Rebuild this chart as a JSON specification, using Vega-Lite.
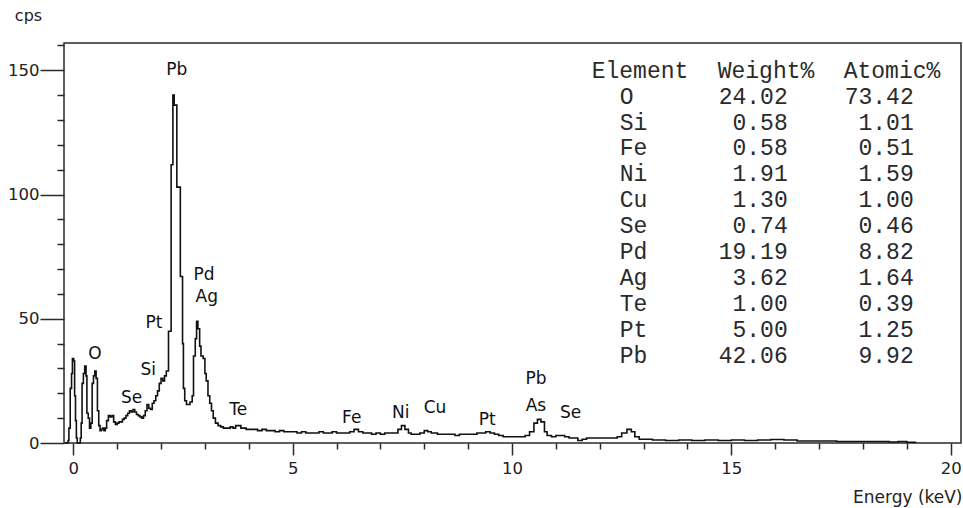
{
  "$schema": "https://vega.github.io/schema/vega-lite/v6.json",
  "width": 897,
  "height": 400,
  "autosize": {"type": "none"},
  "padding": {"left": 64, "top": 43, "right": 2, "bottom": 65},
  "background": "white",
  "config": {
    "font": "DejaVu Sans",
    "view": {"stroke": "#2a2a2a", "strokeWidth": 1.5},
    "axis": {
      "grid": false,
      "domain": false,
      "tickColor": "#2a2a2a",
      "tickWidth": 1.5,
      "labelFont": "DejaVu Sans",
      "labelFontSize": 16.5,
      "labelColor": "#222",
      "titleFont": "DejaVu Sans",
      "titleFontWeight": "normal",
      "titleColor": "#222",
      "labelFlush": false,
      "labelOverlap": false
    }
  },
  "datasets": {
    "spectrum": [
      {"keV": -0.2, "cps": 0}, {"keV": -0.15, "cps": 0}, {"keV": -0.12, "cps": 1}, {"keV": -0.1, "cps": 6},
      {"keV": -0.07, "cps": 22}, {"keV": -0.04, "cps": 28}, {"keV": -0.02, "cps": 34}, {"keV": 0.01, "cps": 33},
      {"keV": 0.03, "cps": 19}, {"keV": 0.05, "cps": 9}, {"keV": 0.07, "cps": 2}, {"keV": 0.09, "cps": 0},
      {"keV": 0.13, "cps": 0}, {"keV": 0.16, "cps": 2}, {"keV": 0.18, "cps": 8}, {"keV": 0.2, "cps": 24},
      {"keV": 0.23, "cps": 28}, {"keV": 0.26, "cps": 31}, {"keV": 0.29, "cps": 27}, {"keV": 0.31, "cps": 12},
      {"keV": 0.34, "cps": 10}, {"keV": 0.37, "cps": 6}, {"keV": 0.4, "cps": 8}, {"keV": 0.43, "cps": 24},
      {"keV": 0.46, "cps": 27}, {"keV": 0.49, "cps": 29}, {"keV": 0.52, "cps": 26}, {"keV": 0.55, "cps": 13},
      {"keV": 0.58, "cps": 7}, {"keV": 0.61, "cps": 5}, {"keV": 0.64, "cps": 5.5}, {"keV": 0.67, "cps": 6},
      {"keV": 0.7, "cps": 5}, {"keV": 0.73, "cps": 6}, {"keV": 0.76, "cps": 9}, {"keV": 0.8, "cps": 11},
      {"keV": 0.84, "cps": 10.5}, {"keV": 0.88, "cps": 11}, {"keV": 0.92, "cps": 8.5}, {"keV": 0.96, "cps": 7.5},
      {"keV": 1.0, "cps": 8}, {"keV": 1.04, "cps": 8.5}, {"keV": 1.08, "cps": 8.5}, {"keV": 1.12, "cps": 9.5},
      {"keV": 1.16, "cps": 10}, {"keV": 1.2, "cps": 11}, {"keV": 1.24, "cps": 12}, {"keV": 1.28, "cps": 13},
      {"keV": 1.32, "cps": 12.5}, {"keV": 1.36, "cps": 13.5}, {"keV": 1.4, "cps": 12.5}, {"keV": 1.44, "cps": 11.5},
      {"keV": 1.48, "cps": 11}, {"keV": 1.52, "cps": 10.5}, {"keV": 1.56, "cps": 10}, {"keV": 1.6, "cps": 11},
      {"keV": 1.64, "cps": 13}, {"keV": 1.68, "cps": 15.5}, {"keV": 1.72, "cps": 14}, {"keV": 1.76, "cps": 13.5},
      {"keV": 1.8, "cps": 16}, {"keV": 1.84, "cps": 17}, {"keV": 1.88, "cps": 19}, {"keV": 1.92, "cps": 21},
      {"keV": 1.96, "cps": 24}, {"keV": 2.0, "cps": 26}, {"keV": 2.04, "cps": 25}, {"keV": 2.08, "cps": 27},
      {"keV": 2.12, "cps": 29}, {"keV": 2.17, "cps": 45}, {"keV": 2.23, "cps": 112}, {"keV": 2.27, "cps": 140},
      {"keV": 2.3, "cps": 136}, {"keV": 2.36, "cps": 103}, {"keV": 2.44, "cps": 67}, {"keV": 2.49, "cps": 40},
      {"keV": 2.51, "cps": 22}, {"keV": 2.54, "cps": 17}, {"keV": 2.58, "cps": 15.5}, {"keV": 2.66, "cps": 16.5},
      {"keV": 2.71, "cps": 19}, {"keV": 2.74, "cps": 35}, {"keV": 2.78, "cps": 42}, {"keV": 2.81, "cps": 49},
      {"keV": 2.84, "cps": 46}, {"keV": 2.88, "cps": 39}, {"keV": 2.91, "cps": 35}, {"keV": 2.96, "cps": 34},
      {"keV": 3.0, "cps": 28}, {"keV": 3.03, "cps": 25}, {"keV": 3.07, "cps": 19}, {"keV": 3.11, "cps": 16},
      {"keV": 3.15, "cps": 13}, {"keV": 3.19, "cps": 10}, {"keV": 3.24, "cps": 8}, {"keV": 3.3, "cps": 7},
      {"keV": 3.36, "cps": 6.5}, {"keV": 3.42, "cps": 6}, {"keV": 3.52, "cps": 6}, {"keV": 3.58, "cps": 6.5},
      {"keV": 3.64, "cps": 6}, {"keV": 3.7, "cps": 7}, {"keV": 3.76, "cps": 7}, {"keV": 3.82, "cps": 6},
      {"keV": 3.88, "cps": 6}, {"keV": 3.94, "cps": 5.5}, {"keV": 4.1, "cps": 5.5}, {"keV": 4.2, "cps": 5},
      {"keV": 4.3, "cps": 5.5}, {"keV": 4.4, "cps": 5}, {"keV": 4.6, "cps": 4.5}, {"keV": 4.7, "cps": 5},
      {"keV": 4.8, "cps": 4.5}, {"keV": 5.1, "cps": 4}, {"keV": 5.2, "cps": 4.5}, {"keV": 5.3, "cps": 4},
      {"keV": 5.6, "cps": 4.5}, {"keV": 5.7, "cps": 4}, {"keV": 5.9, "cps": 4.5}, {"keV": 6.0, "cps": 4},
      {"keV": 6.3, "cps": 4.5}, {"keV": 6.4, "cps": 5.5}, {"keV": 6.5, "cps": 4.5}, {"keV": 6.6, "cps": 4},
      {"keV": 6.8, "cps": 3.5}, {"keV": 6.9, "cps": 4}, {"keV": 7.0, "cps": 3.5}, {"keV": 7.1, "cps": 4},
      {"keV": 7.4, "cps": 5.5}, {"keV": 7.48, "cps": 7}, {"keV": 7.56, "cps": 5.5}, {"keV": 7.64, "cps": 4},
      {"keV": 7.7, "cps": 3.5}, {"keV": 7.9, "cps": 4}, {"keV": 8.0, "cps": 5}, {"keV": 8.08, "cps": 4.5},
      {"keV": 8.16, "cps": 4}, {"keV": 8.3, "cps": 3.5}, {"keV": 8.7, "cps": 3}, {"keV": 8.8, "cps": 3.5},
      {"keV": 9.2, "cps": 4}, {"keV": 9.4, "cps": 4.5}, {"keV": 9.5, "cps": 4}, {"keV": 9.6, "cps": 3.5},
      {"keV": 9.7, "cps": 3}, {"keV": 9.8, "cps": 2.5}, {"keV": 10.3, "cps": 3}, {"keV": 10.4, "cps": 4.5},
      {"keV": 10.5, "cps": 8}, {"keV": 10.58, "cps": 9.5}, {"keV": 10.66, "cps": 8.5}, {"keV": 10.74, "cps": 4.5},
      {"keV": 10.8, "cps": 3}, {"keV": 10.9, "cps": 2.5}, {"keV": 11.0, "cps": 3}, {"keV": 11.2, "cps": 2.5},
      {"keV": 11.3, "cps": 2}, {"keV": 11.5, "cps": 1}, {"keV": 11.6, "cps": 1.5}, {"keV": 11.7, "cps": 2},
      {"keV": 12.4, "cps": 2.5}, {"keV": 12.5, "cps": 4}, {"keV": 12.62, "cps": 5.5}, {"keV": 12.72, "cps": 4.5},
      {"keV": 12.8, "cps": 2.5}, {"keV": 12.9, "cps": 1.5}, {"keV": 13.2, "cps": 1.2}, {"keV": 13.5, "cps": 1},
      {"keV": 13.8, "cps": 1.2}, {"keV": 14.1, "cps": 1}, {"keV": 14.4, "cps": 1.2}, {"keV": 14.7, "cps": 1},
      {"keV": 15.0, "cps": 1.2}, {"keV": 15.3, "cps": 1}, {"keV": 15.6, "cps": 1.2}, {"keV": 15.9, "cps": 1.4},
      {"keV": 16.2, "cps": 1.2}, {"keV": 16.5, "cps": 0.8}, {"keV": 17.4, "cps": 0.6}, {"keV": 18.6, "cps": 0.4},
      {"keV": 18.8, "cps": 0.6}, {"keV": 19.0, "cps": 0.3}, {"keV": 19.2, "cps": 0.5}
    ],
    "peaks": [
      {"label": "O", "keV": 0.495, "cps": 35.8},
      {"label": "Se", "keV": 1.331, "cps": 18.1},
      {"label": "Si", "keV": 1.71, "cps": 29.4},
      {"label": "Pt", "keV": 1.84, "cps": 48.3},
      {"label": "Pb", "keV": 2.357, "cps": 150.2},
      {"label": "Pd", "keV": 2.979, "cps": 67.6},
      {"label": "Ag", "keV": 3.041, "cps": 58.9},
      {"label": "Te", "keV": 3.761, "cps": 13.3},
      {"label": "Fe", "keV": 6.346, "cps": 9.9},
      {"label": "Ni", "keV": 7.463, "cps": 12.0},
      {"label": "Cu", "keV": 8.245, "cps": 14.0},
      {"label": "Pt", "keV": 9.437, "cps": 9.3},
      {"label": "Pb", "keV": 10.547, "cps": 25.8},
      {"label": "As", "keV": 10.547, "cps": 14.9},
      {"label": "Se", "keV": 11.338, "cps": 12.0}
    ],
    "composition": [
      {"rank": 1, "element": "O", "weight": 24.02, "atomic": 73.42},
      {"rank": 2, "element": "Si", "weight": 0.58, "atomic": 1.01},
      {"rank": 3, "element": "Fe", "weight": 0.58, "atomic": 0.51},
      {"rank": 4, "element": "Ni", "weight": 1.91, "atomic": 1.59},
      {"rank": 5, "element": "Cu", "weight": 1.30, "atomic": 1.00},
      {"rank": 6, "element": "Se", "weight": 0.74, "atomic": 0.46},
      {"rank": 7, "element": "Pd", "weight": 19.19, "atomic": 8.82},
      {"rank": 8, "element": "Ag", "weight": 3.62, "atomic": 1.64},
      {"rank": 9, "element": "Te", "weight": 1.00, "atomic": 0.39},
      {"rank": 10, "element": "Pt", "weight": 5.00, "atomic": 1.25},
      {"rank": 11, "element": "Pb", "weight": 42.06, "atomic": 9.92}
    ]
  },
  "layer": [
    {
      "data": {"name": "spectrum"},
      "mark": {"type": "line", "interpolate": "step-after", "color": "#111", "strokeWidth": 1.6},
      "encoding": {
        "x": {
          "field": "keV", "type": "quantitative",
          "scale": {"domain": [-0.212, 20.235], "nice": false, "zero": false},
          "axis": {"orient": "bottom", "values": [0, 5, 10, 15, 20], "tickSize": 12, "labelPadding": 5,
                   "title": "Energy (keV)", "titleFontSize": 17, "titleAlign": "right", "titleAnchor": "end",
                   "titleX": 898, "titleY": 54, "titleBaseline": "middle"}
        },
        "y": {
          "field": "cps", "type": "quantitative",
          "scale": {"domain": [0, 161], "nice": false},
          "axis": {"orient": "left", "values": [0, 50, 100, 150], "tickSize": 24, "labelPadding": 1, "labelBaseline": "middle",
                   "title": "cps", "titleFontSize": 16, "titleAngle": 0, "titleAlign": "center",
                   "titleBaseline": "middle", "titleX": -36, "titleY": -28}
        }
      }
    },
    {
      "data": {"name": "peaks"},
      "mark": {"type": "text", "font": "DejaVu Sans", "fontSize": 17, "color": "#111", "align": "center", "baseline": "middle"},
      "encoding": {
        "x": {
          "field": "keV", "type": "quantitative",
          "scale": {"domain": [-0.212, 20.235], "nice": false, "zero": false},
          "axis": {"orient": "bottom", "values": [1, 2, 3, 4, 6, 7, 8, 9, 11, 12, 13, 14, 16, 17, 18, 19], "tickSize": 6, "labels": false, "title": null}
        },
        "y": {
          "field": "cps", "type": "quantitative",
          "scale": {"domain": [0, 161], "nice": false},
          "axis": {"orient": "left", "values": [10, 20, 30, 40, 60, 70, 80, 90, 110, 120, 130, 140, 160], "tickSize": 7, "labels": false, "title": null}
        },
        "text": {"field": "label"}
      }
    },
    {
      "data": {"values": [{"heading": "Element"}]},
      "mark": {"type": "text", "font": "Liberation Mono", "fontSize": 23, "color": "#2a2a2a", "align": "left", "baseline": "middle"},
      "encoding": {
        "x": {"datum": 11.817, "type": "quantitative", "scale": {"domain": [-0.212, 20.235], "nice": false, "zero": false}, "axis": null},
        "y": {"datum": 0, "type": "quantitative", "scale": {"domain": [-1.0734, 14.371], "nice": false, "zero": false, "reverse": true}, "axis": null},
        "text": {"field": "heading"}
      }
    },
    {
      "data": {"values": [{"heading": "Weight%"}]},
      "mark": {"type": "text", "font": "Liberation Mono", "fontSize": 23, "color": "#2a2a2a", "align": "left", "baseline": "middle"},
      "encoding": {
        "x": {"datum": 14.689, "type": "quantitative", "scale": {"domain": [-0.212, 20.235], "nice": false, "zero": false}, "axis": null},
        "y": {"datum": 0, "type": "quantitative", "scale": {"domain": [-1.0734, 14.371], "nice": false, "zero": false, "reverse": true}, "axis": null},
        "text": {"field": "heading"}
      }
    },
    {
      "data": {"values": [{"heading": "Atomic%"}]},
      "mark": {"type": "text", "font": "Liberation Mono", "fontSize": 23, "color": "#2a2a2a", "align": "left", "baseline": "middle"},
      "encoding": {
        "x": {"datum": 17.561, "type": "quantitative", "scale": {"domain": [-0.212, 20.235], "nice": false, "zero": false}, "axis": null},
        "y": {"datum": 0, "type": "quantitative", "scale": {"domain": [-1.0734, 14.371], "nice": false, "zero": false, "reverse": true}, "axis": null},
        "text": {"field": "heading"}
      }
    },
    {
      "data": {"name": "composition"},
      "mark": {"type": "text", "font": "Liberation Mono", "fontSize": 23, "color": "#2a2a2a", "align": "left", "baseline": "middle"},
      "encoding": {
        "x": {"datum": 12.455, "type": "quantitative", "scale": {"domain": [-0.212, 20.235], "nice": false, "zero": false}, "axis": null},
        "y": {"field": "rank", "type": "quantitative", "scale": {"domain": [-1.0734, 14.371], "nice": false, "zero": false, "reverse": true}, "axis": null},
        "text": {"field": "element"}
      }
    },
    {
      "data": {"name": "composition"},
      "mark": {"type": "text", "font": "Liberation Mono", "fontSize": 23, "color": "#2a2a2a", "align": "right", "baseline": "middle"},
      "encoding": {
        "x": {"datum": 16.285, "type": "quantitative", "scale": {"domain": [-0.212, 20.235], "nice": false, "zero": false}, "axis": null},
        "y": {"field": "rank", "type": "quantitative", "scale": {"domain": [-1.0734, 14.371], "nice": false, "zero": false, "reverse": true}, "axis": null},
        "text": {"field": "weight", "format": ".2f"}
      }
    },
    {
      "data": {"name": "composition"},
      "mark": {"type": "text", "font": "Liberation Mono", "fontSize": 23, "color": "#2a2a2a", "align": "right", "baseline": "middle"},
      "encoding": {
        "x": {"datum": 19.157, "type": "quantitative", "scale": {"domain": [-0.212, 20.235], "nice": false, "zero": false}, "axis": null},
        "y": {"field": "rank", "type": "quantitative", "scale": {"domain": [-1.0734, 14.371], "nice": false, "zero": false, "reverse": true}, "axis": null},
        "text": {"field": "atomic", "format": ".2f"}
      }
    }
  ],
  "resolve": {
    "scale": {"y": "independent"},
    "axis": {"x": "independent", "y": "independent"}
  }
}
